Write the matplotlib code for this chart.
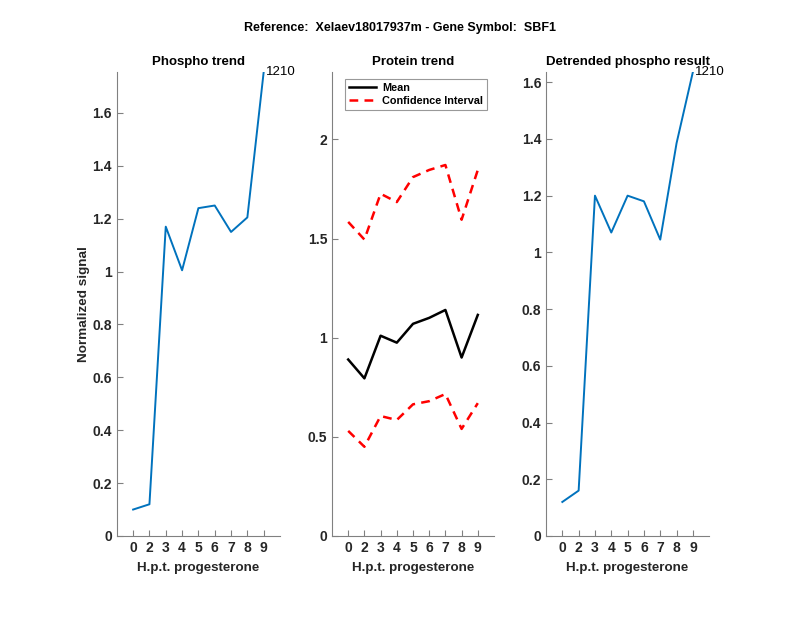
import numpy as np
import matplotlib
matplotlib.use("Agg")
import matplotlib.pyplot as plt

plt.rcParams["font.family"] = ["Liberation Sans", "DejaVu Sans"]

tick_labels = ["0", "2", "3", "4", "5", "6", "7", "8", "9"]
phospho = [0.10, 0.12, 1.17, 1.005, 1.24, 1.25, 1.15, 1.205, 1.755]
prot_mean = [0.89, 0.795, 1.01, 0.975, 1.07, 1.10, 1.14, 0.90, 1.115]
prot_upper = [1.584, 1.495, 1.726, 1.684, 1.81, 1.846, 1.871, 1.595, 1.846]
prot_lower = [0.53, 0.45, 0.605, 0.585, 0.664, 0.68, 0.716, 0.54, 0.67]
detrended = [0.12, 0.16, 1.20, 1.07, 1.20, 1.18, 1.045, 1.385, 1.636]
peptide_id = "1210"

x = np.arange(1, len(tick_labels) + 1)
blue = "#0072BD"
axcol = "#808080"
txtcol = "#262626"
dash = (0, (3.5, 2.5))

fig = plt.figure(figsize=(8, 6.18), dpi=100)
fig.suptitle("Reference:  Xelaev18017937m - Gene Symbol:  SBF1",
             y=0.955, va="center", fontsize=9, fontweight="bold")

bottom, height = 0.1327, 0.7508
ax1 = fig.add_axes([0.146, bottom, 0.204, height])
ax2 = fig.add_axes([0.415, bottom, 0.2025, height])
ax3 = fig.add_axes([0.6825, bottom, 0.204, height])


def style(ax):
    ax.spines["top"].set_visible(False)
    ax.spines["right"].set_visible(False)
    for s in ("left", "bottom"):
        ax.spines[s].set_color(axcol)
    ax.tick_params(direction="in", length=4, color=axcol, labelcolor=txtcol,
                   labelsize=10)
    for lab in ax.get_xticklabels() + ax.get_yticklabels():
        lab.set_fontweight("bold")
    ax.set_xlim(0, 10)
    ax.set_xticks(x)
    ax.set_xticklabels(tick_labels, fontweight="bold")
    ax.set_xlabel("H.p.t. progesterone", fontsize=9.6, fontweight="bold",
                  color=txtcol, labelpad=5)


# phospho trend
ax1.plot(x, phospho, color=blue, lw=1.4)
ax1.text(x[-1] + 0.15, phospho[-1], peptide_id, fontsize=9.5, va="center")
ax1.set_ylim(0, max(phospho))
ax1.set_yticks(np.arange(0, 1.7, 0.2))
ax1.set_yticklabels(["0", "0.2", "0.4", "0.6", "0.8", "1", "1.2", "1.4", "1.6"])
ax1.set_title("Phospho trend", fontsize=9.5, fontweight="bold", pad=5)
ax1.set_ylabel("Normalized signal", fontsize=9.7, fontweight="bold",
               color=txtcol, labelpad=1.5)
style(ax1)

# protein trend
ax2.plot(x, prot_mean, color="black", lw=1.8, label="Mean")
ax2.plot(x, prot_upper, color="red", lw=1.8, ls=dash,
         label="Confidence Interval")
ax2.plot(x, prot_lower, color="red", lw=1.8, ls=dash)
ax2.set_ylim(0, 2.34)
ax2.set_yticks([0, 0.5, 1, 1.5, 2])
ax2.set_yticklabels(["0", "0.5", "1", "1.5", "2"])
ax2.set_title("Protein trend", fontsize=9.5, fontweight="bold", pad=5)
leg = ax2.legend(loc="upper left", bbox_to_anchor=(0.08, 0.985),
                 prop={"weight": "bold", "size": 7.8}, fancybox=False,
                 borderpad=0.35, labelspacing=0.3, handlelength=2.5,
                 handletextpad=0.6, borderaxespad=0)
leg.get_frame().set_edgecolor(axcol)
leg.get_frame().set_linewidth(0.8)
style(ax2)

# detrended
ax3.plot(x, detrended, color=blue, lw=1.4)
ax3.text(x[-1] + 0.15, detrended[-1], peptide_id, fontsize=9.5, va="center")
ax3.set_ylim(0, max(detrended))
ax3.set_yticks(np.arange(0, 1.7, 0.2))
ax3.set_yticklabels(["0", "0.2", "0.4", "0.6", "0.8", "1", "1.2", "1.4", "1.6"])
ax3.set_title("Detrended phospho result", fontsize=9.5, fontweight="bold", pad=5)
style(ax3)

fig.savefig("out.png", dpi=100)
